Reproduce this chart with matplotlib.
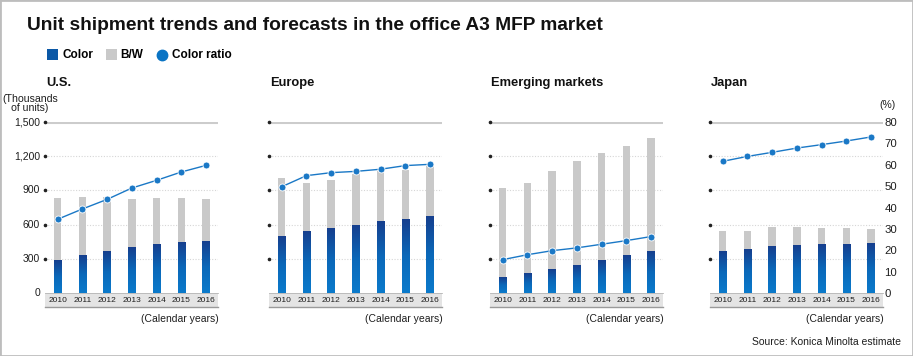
import matplotlib
matplotlib.use("Agg")
import matplotlib.pyplot as plt
import numpy as np
from matplotlib import font_manager
from matplotlib.colors import LinearSegmentedColormap
from matplotlib.patches import Rectangle

# Data (thousands of units, color ratio in %)
years = ["2010", "2011", "2012", "2013", "2014", "2015", "2016"]
regions = ["U.S.", "Europe", "Emerging markets", "Japan"]

us_total = [833, 845, 839, 822, 833, 830, 825]
us_color = [287, 330, 363, 395, 427, 444, 456]
us_ratio = [34.5, 39.3, 43.8, 49.1, 52.7, 56.6, 59.7]

eu_total = [1012, 965, 991, 1044, 1067, 1076, 1114]
eu_color = [500, 541, 570, 594, 623, 646, 667]
eu_ratio = [49.7, 54.9, 56.3, 56.9, 57.9, 59.6, 60.2]

em_total = [918, 968, 1067, 1161, 1231, 1292, 1357]
em_color = [140, 170, 205, 243, 281, 325, 365]
em_ratio = [15.6, 17.9, 19.8, 21.1, 22.8, 24.5, 26.4]

jp_total = [545, 542, 580, 580, 571, 568, 560]
jp_color = [366, 378, 410, 416, 422, 428, 431]
jp_ratio = [61.6, 63.9, 65.8, 67.8, 69.4, 71.1, 73.0]

unit_ticks = [0, 300, 600, 900, 1200, 1500]
unit_labels = ["0", "300", "600", "900", "1,200", "1,500"]
pct_ticks = [0, 10, 20, 30, 40, 50, 60, 70, 80]

totals = [us_total, eu_total, em_total, jp_total]
colors = [us_color, eu_color, em_color, jp_color]
ratios = [us_ratio, eu_ratio, em_ratio, jp_ratio]

plt.rcParams['font.family'] = ['Liberation Sans', 'DejaVu Sans']
names = {f.name for f in font_manager.fontManager.ttflist}
year_font = 'Liberation Sans Narrow' if 'Liberation Sans Narrow' in names else 'Liberation Sans'
year_size = 6.8 if year_font == 'Liberation Sans Narrow' else 6.0

W, H = 913, 356
fig = plt.figure(figsize=(W / 100, H / 100), dpi=100)

def fx(px):
    return px / W

def fy(py):
    return 1 - py / H

grad = LinearSegmentedColormap.from_list("g", ["#0a7acb", "#0b68b9", "#163f8e"])
gray = "#c9c9c9"
blue_line = "#1a78c6"
txt = "#1e1e1e"

lefts = [45.3, 269.3, 490.3, 710.3]
ax_w = 173
y_top, y_bot = 122, 293
band_h = 14

for i in range(4):
    ax = fig.add_axes([fx(lefts[i]), fy(y_bot), fx(ax_w), (y_bot - y_top) / H])
    x = np.arange(len(years))
    # gridlines
    for t in unit_ticks[1:-1]:
        ax.plot([-0.5, 6.5], [t, t], ls=(0, (1, 1.5)), color="#d6d6d6", lw=0.8, zorder=0)
    ax.plot([-0.5, 6.5], [1500, 1500], color="#cccccc", lw=2.2, zorder=0, solid_capstyle="butt")
    ax.plot([-0.5] * 5, unit_ticks[1:], ls="none", marker="o", ms=1.6, color="#222222",
            clip_on=False, zorder=3)

    bw = 0.3
    ax.bar(x, totals[i], width=bw, color=gray, zorder=1)
    g = np.linspace(0, 1, 100).reshape(-1, 1)
    for xi, c in zip(x, colors[i]):
        ax.imshow(g, cmap=grad, extent=[xi - bw / 2, xi + bw / 2, 0, c], aspect="auto",
                  origin="lower", zorder=2)

    ax.set_xlim(-0.5, 6.5)
    ax.set_ylim(0, 1500)
    ax.set_xticks(x)
    ax.set_xticklabels(years, fontsize=year_size, family=[year_font, 'DejaVu Sans'], color=txt)
    ax.tick_params(axis="x", length=0, pad=3)
    ax.set_yticks([])
    for s in ax.spines.values():
        s.set_visible(False)

    # year band
    bh = band_h / (y_bot - y_top)
    ax.add_patch(Rectangle((0, -bh), 1, bh, transform=ax.transAxes, facecolor="#e4e4e4",
                           edgecolor="none", clip_on=False, zorder=0))
    ax.plot([0, 1], [-bh, -bh], transform=ax.transAxes, color="#9a9a9a", lw=1, clip_on=False)
    ax.plot([0, 1], [0, 0], transform=ax.transAxes, color="#b5b5b5", lw=0.6, clip_on=False)

    ax2 = ax.twinx()
    ax2.plot(x, ratios[i], color=blue_line, lw=1, marker="o", ms=5,
             markeredgecolor="white", markeredgewidth=0.6, zorder=5)
    ax2.set_ylim(0, 80)
    ax2.set_xlim(-0.5, 6.5)
    for s in ax2.spines.values():
        s.set_visible(False)
    if i == 3:
        ax2.set_yticks(pct_ticks)
        ax2.tick_params(axis="y", length=0, pad=0.8, labelsize=8.2, labelcolor=txt)
    else:
        ax2.set_yticks([])

    fig.text(fx(lefts[i] + 0.5), fy(83), regions[i], fontsize=9.3, fontweight="bold",
             ha="left", va="center", color="#111111")
    fig.text(fx(lefts[i] + ax_w), fy(319), "(Calendar years)", fontsize=7.5,
             ha="right", va="center", color=txt)

# US left axis labels
for t, lab in zip(unit_ticks, unit_labels):
    yy = y_bot - t / 1500 * (y_bot - y_top)
    fig.text(fx(40), fy(yy), lab, fontsize=7.5, ha="right", va="center", color=txt)
fig.text(fx(30), fy(103.5), "(Thousands\nof units)", fontsize=7.6, ha="center", va="center",
         color=txt, linespacing=0.95)
fig.text(fx(896), fy(105), "(%)", fontsize=7.5, ha="right", va="center", color=txt)

# title and legend
fig.text(fx(27), fy(25), "Unit shipment trends and forecasts in the office A3 MFP market",
         fontsize=13.8, fontweight="bold", ha="left", va="center", color="#111111")
fig.patches.append(Rectangle((fx(47), fy(60)), fx(11), 11 / H, transform=fig.transFigure,
                             facecolor="#0b58a6", edgecolor="none"))
fig.text(fx(62), fy(54.5), "Color", fontsize=8.5, fontweight="bold", ha="left", va="center")
fig.patches.append(Rectangle((fx(106), fy(60)), fx(11), 11 / H, transform=fig.transFigure,
                             facecolor=gray, edgecolor="none"))
fig.text(fx(120), fy(54.5), "B/W", fontsize=8.5, fontweight="bold", ha="left", va="center")
lax = fig.add_axes([fx(155), fy(61.5), fx(14), 14 / H])
lax.plot([0.5], [0.5], marker="o", ms=7.5, color="#0a74c4")
lax.set_xlim(0, 1)
lax.set_ylim(0, 1)
lax.axis("off")
fig.text(fx(171.5), fy(54.5), "Color ratio", fontsize=8.5, fontweight="bold", ha="left", va="center")

fig.text(fx(901), fy(342), "Source: Konica Minolta estimate", fontsize=7.5,
         ha="right", va="center", color=txt)

fig.patches.append(Rectangle((0, 0), 1, 1, transform=fig.transFigure, facecolor="none",
                             edgecolor="#bdbdbd", lw=2))

fig.savefig("out.png", dpi=100)
